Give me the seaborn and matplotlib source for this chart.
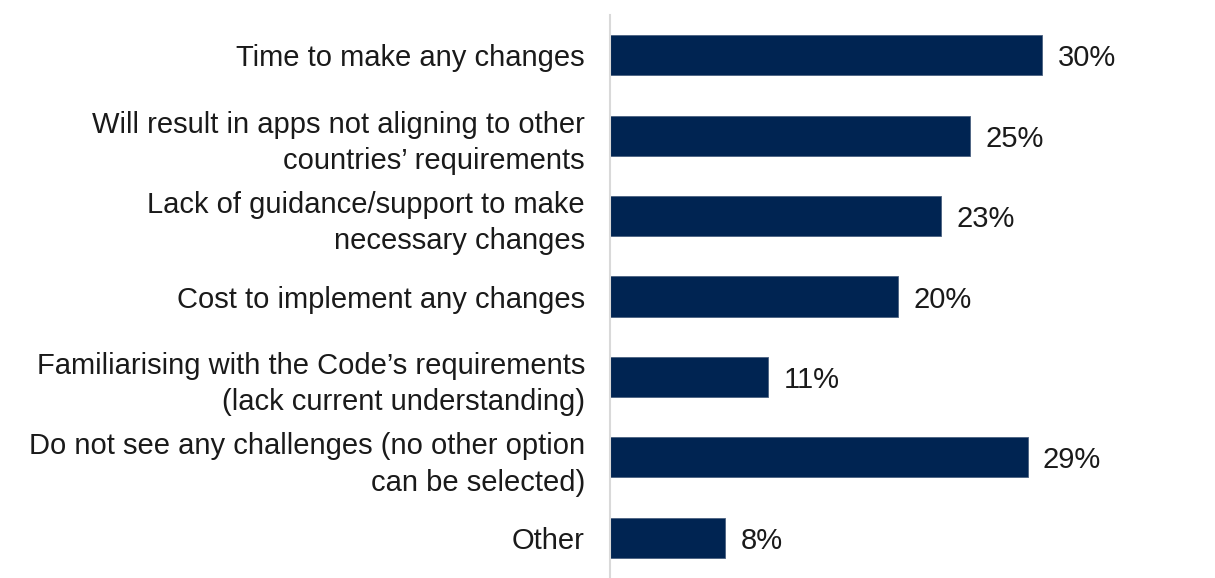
import matplotlib
matplotlib.use("Agg")
import matplotlib.pyplot as plt
import seaborn as sns
import pandas as pd

categories = [
    "Time to make any changes",
    "Will result in apps not aligning to other\ncountries\u2019 requirements",
    "Lack of guidance/support to make\nnecessary changes",
    "Cost to implement any changes",
    "Familiarising with the Code\u2019s requirements\n(lack current understanding)",
    "Do not see any challenges (no other option\ncan be selected)",
    "Other",
]
values = [30, 25, 23, 20, 11, 29, 8]

df = pd.DataFrame({"category": categories, "value": values})

sns.set_theme(style="white")
plt.rcParams["font.family"] = ["Liberation Sans", "DejaVu Sans"]

fig = plt.figure(figsize=(12.15, 5.78), dpi=100)
ax = fig.add_axes([0.502, 0.0, 0.498, 0.974])

sns.barplot(data=df, x="value", y="category", orient="h", color="#002452",
            width=0.5, edgecolor="#4a6080", linewidth=0.6, saturation=1, ax=ax)

ax.set_xlim(0, 42)
ax.set_ylim(6.5, -0.5)
ax.set_xlabel("")
ax.set_ylabel("")
ax.set_xticks([])
ax.tick_params(axis="y", length=0, pad=18, labelsize=21, labelcolor="#1a1a1a")
for lbl in ax.get_yticklabels():
    lbl.set_horizontalalignment("right")
    lbl.set_multialignment("right")
    lbl.set_linespacing(1.38)

for s in ["top", "right", "bottom"]:
    ax.spines[s].set_visible(False)
ax.spines["left"].set_color("#d9d9d9")
ax.spines["left"].set_linewidth(1.5)

for container in ax.containers:
    texts = ax.bar_label(container, labels=[f"{v}%" for v in values], padding=11,
                         fontsize=21, color="#1a1a1a")
    for t in texts:
        t.set_verticalalignment("center_baseline")

fig.savefig("out.png", dpi=100)
